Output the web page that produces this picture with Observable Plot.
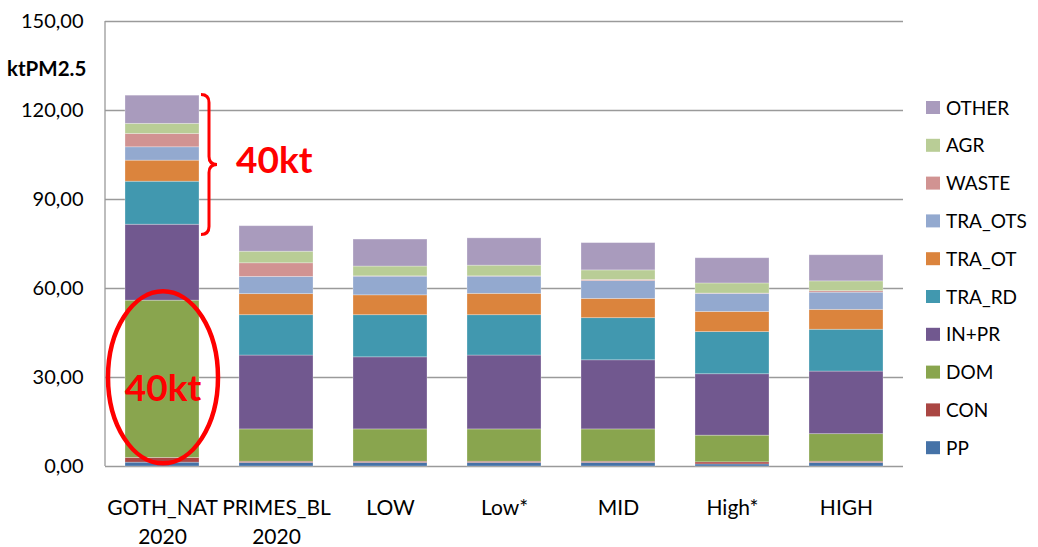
<!DOCTYPE html>
<html>
<head>
<meta charset="utf-8">
<script src="https://cdn.jsdelivr.net/npm/d3@7"></script>
<script src="https://cdn.jsdelivr.net/npm/@observablehq/plot@0.6"></script>
<style>
  html, body { margin: 0; padding: 0; background: #fff; }
  #chart { width: 1038px; height: 547px; }
  svg text { font-family: Lato, "Open Sans", sans-serif; }
</style>
</head>
<body>
<div id="chart"></div>
<script>
// Scenario categories along the x axis
const categories = ["GOTH_NAT\n2020", "PRIMES_BL\n2020", "LOW", "Low*", "MID", "High*", "HIGH"];

// Emission sectors, bottom of the stack first
const sectors = ["PP", "CON", "DOM", "IN+PR", "TRA_RD", "TRA_OT", "TRA_OTS", "WASTE", "AGR", "OTHER"];
const sectorColors = ["#4572A7", "#AA4643", "#89A54E", "#71588F", "#4198AF", "#DB843D", "#93A9CF", "#D19392", "#B9CD96", "#A99BBD"];

// PM2.5 emissions per sector (kt), one value per category
const PP      = [1.3, 1.2, 1.2, 1.2, 1.2, 0.7, 1.2];
const CON     = [1.6, 0.4, 0.4, 0.4, 0.4, 0.7, 0.4];
const DOM     = [53.0, 10.9, 10.9, 10.9, 10.9, 9.0, 9.3];
const IN_PR   = [25.6, 24.9, 24.3, 24.9, 23.3, 20.7, 21.1];
const TRA_RD  = [14.5, 13.6, 14.2, 13.6, 14.2, 14.2, 14.1];
const TRA_OT  = [7.1, 7.1, 6.7, 7.2, 6.5, 6.8, 6.7];
const TRA_OTS = [4.5, 5.8, 6.3, 5.8, 6.0, 6.1, 5.8];
const WASTE   = [4.5, 4.6, 0.1, 0.1, 0.4, 0.1, 0.5];
const AGR     = [3.4, 3.9, 3.3, 3.6, 3.2, 3.4, 3.3];
const OTHER   = [9.5, 8.6, 9.1, 9.2, 9.2, 8.5, 8.8];

const yTicks = [0, 30, 60, 90, 120, 150];
const yLabel = "ktPM2.5";
const annotationText = "40kt";

const seriesBySector = [PP, CON, DOM, IN_PR, TRA_RD, TRA_OT, TRA_OTS, WASTE, AGR, OTHER];
const rows = sectors.flatMap((s, i) =>
  categories.map((c, j) => ({category: c, sector: s, value: seriesBySector[i][j]}))
);

const W = 1038, H = 547;
const M = {top: 21, right: 135, bottom: 81, left: 105};
const decimalComma = v => d3.format(".2f")(v).replace(".", ",");

const chart = Plot.plot({
  width: W,
  height: H,
  marginTop: M.top,
  marginRight: M.right,
  marginBottom: M.bottom,
  marginLeft: M.left,
  style: {fontFamily: "Lato, 'Open Sans', sans-serif", color: "#000", background: "#fff", overflow: "visible"},
  x: {domain: categories, paddingInner: 0.35, paddingOuter: 0.175, label: null},
  y: {domain: [0, 150], label: null},
  color: {domain: sectors, range: sectorColors},
  marks: [
    Plot.ruleY(yTicks, {stroke: "#9a9a9a", strokeWidth: 1.3}),
    Plot.barY(rows, {
      x: "category",
      y: "value",
      fill: "sector",
      order: sectors,
      stroke: "#fff",
      strokeOpacity: 0.35,
      strokeWidth: 0.8
    }),
    Plot.axisY({
      ticks: yTicks,
      tickSize: 0,
      tickPadding: 22,
      tickFormat: decimalComma,
      fontSize: 20,
      label: null
    }),
    Plot.axisX({
      tickSize: 0,
      tickPadding: 28,
      fontSize: 21,
      lineHeight: 1.38,
      label: null
    })
  ]
});

document.getElementById("chart").appendChild(chart);

const svg = d3.select(chart);
const xs = chart.scale("x");
const ys = chart.scale("y");
const y = v => ys.apply(v);

// Left axis line
svg.append("line")
  .attr("x1", M.left).attr("x2", M.left)
  .attr("y1", y(150)).attr("y2", y(0))
  .attr("stroke", "#9a9a9a").attr("stroke-width", 1.3);

// Axis title
svg.append("text")
  .attr("x", 7).attr("y", y(150) + 55)
  .attr("text-anchor", "start")
  .attr("font-size", 20.5).attr("font-weight", "bold").attr("fill", "#000")
  .text(yLabel);

// Legend, top of the stack first
const legend = svg.append("g").attr("text-anchor", "start");
const legendOrder = sectors.slice().reverse();
legendOrder.forEach((s, i) => {
  const cy = 107.5 + i * 37.8;
  legend.append("rect")
    .attr("x", 926).attr("y", cy - 6.5).attr("width", 14).attr("height", 13)
    .attr("fill", sectorColors[sectors.indexOf(s)]);
  legend.append("text")
    .attr("x", 946).attr("y", cy + 7).attr("font-size", 19).attr("fill", "#000")
    .attr("text-anchor", "start")
    .text(s);
});

// Annotations on the first scenario
const first = categories[0];
const bx = xs.apply(first);
const bw = xs.bandwidth;
const cx = bx + bw / 2;

// Ellipse around the domestic share
const domTop = PP[0] + CON[0] + DOM[0];
const eTop = y(domTop + 3), eBot = y(0.9);
svg.append("ellipse")
  .attr("cx", cx + 1).attr("cy", (eTop + eBot) / 2)
  .attr("rx", bw / 2 + 18).attr("ry", (eBot - eTop) / 2)
  .attr("fill", "none").attr("stroke", "#ff0000").attr("stroke-width", 4.5);

svg.append("text")
  .attr("x", cx + 1).attr("y", y(22))
  .attr("text-anchor", "middle")
  .attr("font-size", 37).attr("font-weight", "bold").attr("fill", "#ff0000")
  .text(annotationText);

// Curly brace over the upper sectors
const total0 = seriesBySector.reduce((a, s) => a + s[0], 0);
const x0 = bx + bw + 2, x1 = x0 + 8, x2 = x0 + 16;
const t = y(total0 + 0.2), b = y(total0 - 47), m = (t + b) / 2;
const brace = `M${x0},${t} Q${x1},${t} ${x1},${t + 8} L${x1},${m - 8} Q${x1},${m} ${x2},${m} ` +
  `Q${x1},${m} ${x1},${m + 8} L${x1},${b - 8} Q${x1},${b} ${x0},${b}`;
svg.append("path")
  .attr("d", brace)
  .attr("fill", "none").attr("stroke", "#ff0000").attr("stroke-width", 3);

svg.append("text")
  .attr("x", x2 + 19).attr("y", y(98.8))
  .attr("text-anchor", "start")
  .attr("font-size", 37).attr("font-weight", "bold").attr("fill", "#ff0000")
  .text(annotationText);
</script>
</body>
</html>
